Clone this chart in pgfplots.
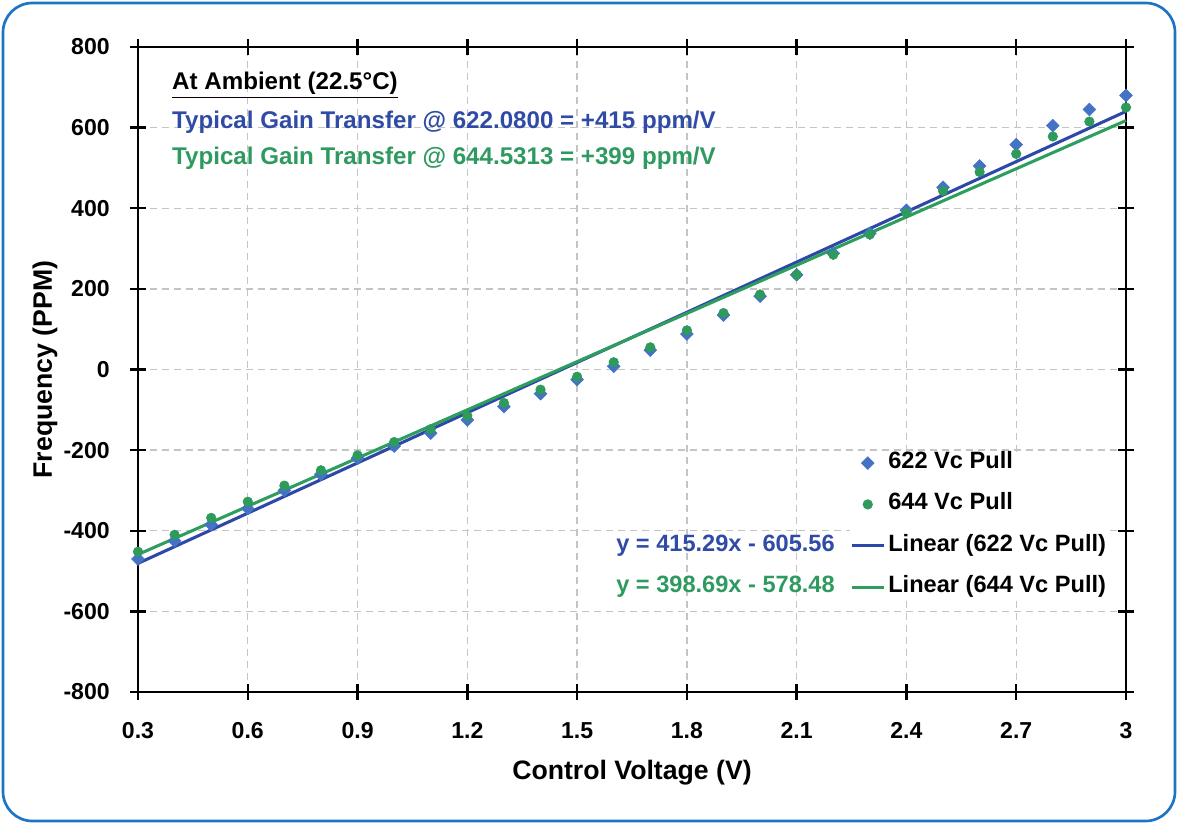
\documentclass[border=0pt]{standalone}
\usepackage{pgfplots}
\pgfplotsset{compat=1.18}
\usepackage{fontspec}
\setmainfont{Liberation Sans}
\definecolor{bordercol}{HTML}{1C74C4}
\definecolor{bluetxt}{HTML}{2F4BA6}
\definecolor{greentxt}{HTML}{2E9A60}
\definecolor{bluemark}{HTML}{4472C4}
\definecolor{greenmark}{HTML}{2E9A5C}
\definecolor{blueline}{HTML}{2D48A6}
\definecolor{greenline}{HTML}{2E9E5E}
\definecolor{gridcol}{HTML}{C4C4C4}
\newcommand{\tickfont}{\fontsize{17.3}{20}\selectfont\bfseries}
\newcommand{\txtfont}{\fontsize{17.7}{21}\selectfont\bfseries}
\newcommand{\titfont}{\fontsize{18.1}{21}\selectfont\bfseries}
\newcommand{\labfont}{\fontsize{20}{24}\selectfont\bfseries}
\pgfplotsset{
  legend image code/.code={\path (0pt,0pt) (24pt,0pt);\draw[#1] (0pt,0pt) -- (24pt,0pt);},
  markleg/.style={legend image code/.code={\path[draw=none] (0pt,0pt) (24pt,0pt);\path[##1] plot[only marks] coordinates {(12pt,0pt)};}},
}

\pgfplotstableread{
x y
0.3 -470
0.4 -425
0.5 -385
0.6 -345
0.7 -300
0.8 -260
0.9 -220
1.0 -190
1.1 -158
1.2 -125
1.3 -92
1.4 -60
1.5 -25
1.6 8
1.7 48
1.8 88
1.9 135
2.0 182
2.1 235
2.2 288
2.3 338
2.4 395
2.5 452
2.6 505
2.7 558
2.8 605
2.9 645
3.0 680
}\pullA

\pgfplotstableread{
x y
0.3 -452
0.4 -410
0.5 -368
0.6 -328
0.7 -288
0.8 -250
0.9 -213
1.0 -180
1.1 -148
1.2 -115
1.3 -83
1.4 -50
1.5 -18
1.6 18
1.7 55
1.8 97
1.9 140
2.0 186
2.1 235
2.2 285
2.3 335
2.4 388
2.5 443
2.6 490
2.7 535
2.8 578
2.9 615
3.0 650
}\pullB

\begin{document}
\begin{tikzpicture}
\useasboundingbox (-103.5pt,-99pt) rectangle (779.25pt,519pt);
\draw[color=bordercol, line width=2pt, rounded corners=22pt] (-101.25pt,-96.75pt) rectangle (777.75pt,516.75pt);
\begin{axis}[
  at={(0pt,0pt)}, anchor=south west,
  scale only axis, width=741pt, height=483.75pt,
  xmin=0.3, xmax=3, ymin=-800, ymax=800,
  clip=false,
  xtick={0.3,0.6,0.9,1.2,1.5,1.8,2.1,2.4,2.7,3},
  xticklabels={0.3,0.6,0.9,1.2,1.5,1.8,2.1,2.4,2.7,3},
  ytick={-800,-600,-400,-200,0,200,400,600,800},
  yticklabels={-800,-600,-400,-200,0,200,400,600,800},
  grid=major,
  major grid style={gridcol, line width=1pt, dash pattern=on 5pt off 4pt},
  axis line style={line width=2.2pt, black},
  tick style={line width=1.8pt, black},
  major tick length=12pt, tick align=center,
  xticklabel style={font=\tickfont, inner sep=0pt, anchor=north, yshift=-16.5pt},
  yticklabel style={font=\tickfont, inner sep=0pt, anchor=east, xshift=-15pt},
  xlabel={Control Voltage (V)},
  ylabel={Frequency (PPM)},
  xlabel style={font=\labfont, at={(axis description cs:0.5,-0.1256)}, anchor=center},
  ylabel style={font=\labfont, at={(axis description cs:-0.0941,0.5)}, anchor=center},
  legend style={at={(axis description cs:0.7206,0.3698)}, anchor=north west,
    draw=none, fill=white, font=\txtfont, inner sep=0pt, row sep=17pt,
    cells={anchor=west}, nodes={inner xsep=2.25pt, inner ysep=0pt, text height=11pt, text depth=3pt}},
]
\addplot[only marks, markleg, mark=square*, mark size=3.4pt, mark options={rotate=45, fill=bluemark, draw=bluemark}] table[x=x,y=y] {\pullA};
\addlegendentry{622 Vc Pull}
\addplot[only marks, markleg, mark=*, mark size=3.6pt, mark options={fill=greenmark, draw=greenmark}] table[x=x,y=y] {\pullB};
\addlegendentry{644 Vc Pull}
\addplot[blueline, line width=2.3pt, no marks] coordinates {(0.3,-480.97) (3,640.31)};
\addlegendentry{Linear (622 Vc Pull)}
\addplot[greenline, line width=2.3pt, no marks] coordinates {(0.3,-458.87) (3,617.59)};
\addlegendentry{Linear (644 Vc Pull)}
\node[anchor=west, font=\titfont, inner sep=0pt] at (axis description cs:0.0344,0.941) {\underline{At Ambient (22.5°C)}};
\node[anchor=west, font=\titfont, text=bluetxt, inner sep=0pt] at (axis description cs:0.0344,0.884) {Typical Gain Transfer @ 622.0800 = +415 ppm/V};
\node[anchor=west, font=\titfont, text=greentxt, inner sep=0pt] at (axis description cs:0.0344,0.828) {Typical Gain Transfer @ 644.5313 = +399 ppm/V};
\node[anchor=east, font=\txtfont, text=bluetxt, inner sep=0pt] at (axis description cs:0.7055,0.2264) {y = 415.29x - 605.56};
\node[anchor=east, font=\txtfont, text=greentxt, inner sep=0pt] at (axis description cs:0.7055,0.1628) {y = 398.69x - 578.48};
\end{axis}
\end{tikzpicture}
\end{document}
